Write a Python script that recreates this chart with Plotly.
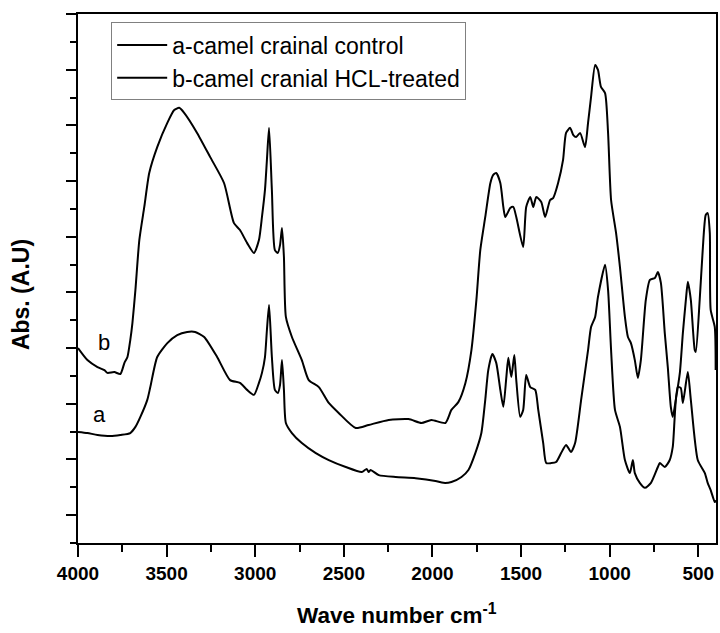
import plotly.graph_objects as go

# Curve a: camel crainal control (wavenumber cm-1, absorbance A.U.)
wn_a = [4000, 3947, 3890, 3817, 3761, 3705, 3676, 3648, 3609, 3592, 3553, 3496, 3440, 3384, 3339,
        3288, 3215, 3142, 3086, 3046, 3007, 2979, 2962, 2945, 2934, 2922, 2906, 2889, 2872, 2860,
        2849, 2838, 2827, 2793, 2737, 2658, 2585, 2489, 2399, 2371, 2360, 2349, 2303, 2208, 2095,
        1983, 1938, 1893, 1836, 1797, 1758, 1724, 1702, 1685, 1662, 1640, 1617, 1600, 1583, 1572,
        1555, 1538, 1527, 1505, 1488, 1471, 1448, 1420, 1403, 1375, 1358, 1330, 1302, 1274, 1246,
        1218, 1195, 1161, 1122, 1105, 1082, 1066, 1026, 1009, 992, 970, 942, 914, 886, 869,
        858, 830, 801, 767, 728, 717, 689, 661, 644, 616, 599, 587, 559, 542, 503,
        463, 447, 430, 407, 402]
abs_a = [3.99, 3.95, 3.88, 3.84, 3.88, 3.95, 4.17, 4.53, 5.14, 5.60, 6.68, 7.18, 7.47, 7.58, 7.58,
         7.40, 6.68, 5.85, 5.75, 5.50, 5.32, 5.75, 6.11, 6.68, 7.65, 8.55, 6.68, 5.50, 5.39, 5.68,
         6.57, 5.50, 4.31, 3.95, 3.59, 3.23, 2.98, 2.73, 2.55, 2.66, 2.55, 2.62, 2.44, 2.37, 2.33,
         2.23, 2.16, 2.19, 2.37, 2.62, 3.23, 3.95, 5.14, 6.21, 6.79, 6.47, 5.50, 4.89, 5.96, 6.65,
         5.96, 6.75, 5.85, 4.53, 4.78, 6.03, 5.60, 5.50, 4.78, 3.59, 2.87, 2.87, 2.91, 3.23, 3.52,
         3.27, 3.59, 5.14, 6.93, 7.76, 8.12, 8.84, 9.99, 9.09, 6.93, 4.78, 4.17, 2.98, 2.51, 2.98,
         2.51, 2.16, 1.98, 2.16, 2.73, 2.87, 2.73, 2.98, 3.45, 5.60, 5.57, 5.03, 6.14, 5.14, 2.98,
         2.51, 2.16, 1.90, 1.47, 1.54]

# Curve b: camel cranial HCL-treated
wn_b = [4000, 3947, 3890, 3851, 3834, 3795, 3761, 3738, 3721, 3705, 3693, 3676, 3654, 3626, 3598,
        3553, 3496, 3457, 3429, 3401, 3328, 3254, 3176, 3120, 3086, 3046, 3007, 2979, 2962, 2945,
        2934, 2922, 2906, 2889, 2872, 2860, 2849, 2838, 2827, 2793, 2737, 2698, 2641, 2585, 2529,
        2433, 2360, 2247, 2135, 2062, 2006, 1927, 1893, 1854, 1814, 1780, 1752, 1730, 1702, 1673,
        1657, 1640, 1617, 1600, 1589, 1561, 1544, 1527, 1488, 1471, 1448, 1431, 1414, 1386, 1364,
        1336, 1319, 1291, 1263, 1246, 1223, 1206, 1189, 1167, 1139, 1122, 1105, 1082, 1066, 1049,
        1026, 1009, 992, 964, 942, 914, 897, 880, 858, 841, 824, 796, 773, 745, 728,
        711, 689, 672, 655, 644, 627, 604, 587, 570, 559, 542, 520, 514, 492, 475,
        458, 447, 435, 430, 407, 402]
abs_b = [7.00, 6.57, 6.32, 6.21, 6.11, 6.14, 6.07, 6.47, 6.68, 7.29, 7.90, 9.09, 10.88, 12.07, 13.29,
         14.22, 15.09, 15.55, 15.63, 15.45, 14.73, 13.86, 12.93, 11.49, 11.24, 10.78, 10.42, 10.88, 11.71, 12.68,
         13.76, 14.91, 12.68, 10.52, 10.42, 10.70, 11.31, 10.27, 8.12, 7.40, 6.57, 5.85, 5.60, 5.03, 4.67,
         4.13, 4.24, 4.42, 4.45, 4.31, 4.42, 4.31, 4.78, 5.06, 5.75, 6.93, 8.73, 10.52, 11.71, 12.93,
         13.22, 13.29, 12.93, 12.07, 11.71, 12.03, 12.07, 11.71, 10.63, 12.07, 12.43, 12.07, 12.43, 12.25, 11.71,
         12.32, 12.39, 12.93, 13.76, 14.73, 14.91, 14.66, 14.58, 14.73, 14.22, 15.09, 16.02, 17.17, 16.99, 16.38,
         16.16, 14.73, 12.32, 11.14, 9.91, 8.12, 7.40, 7.18, 6.57, 5.93, 6.57, 8.73, 9.45, 9.52, 9.73,
         9.34, 7.54, 6.32, 4.89, 4.53, 5.14, 6.11, 7.54, 8.73, 9.38, 8.73, 6.93, 6.86, 8.73, 10.52,
         11.78, 11.85, 11.14, 8.37, 7.76, 6.21]

names = ["a-camel crainal control", "b-camel cranial HCL-treated"]
curve_labels = ["a", "b"]
label_pos_wn = [3880, 3855]
label_pos_abs = [4.60, 7.20]

FONT = "Arial, Liberation Sans"

fig = go.Figure()
fig.add_trace(go.Scatter(x=wn_a, y=abs_a, mode="lines", name=names[0],
                         line=dict(color="black", width=2, shape="spline", smoothing=0.6)))
fig.add_trace(go.Scatter(x=wn_b, y=abs_b, mode="lines", name=names[1],
                         line=dict(color="black", width=2, shape="spline", smoothing=0.6)))

for t, xx, yy in zip(curve_labels, label_pos_wn, label_pos_abs):
    fig.add_annotation(x=xx, y=yy, text=t, showarrow=False,
                       font=dict(family=FONT, size=22, color="black"))

fig.add_annotation(xref="paper", yref="paper", x=0.5, y=-0.164, yanchor="bottom", xanchor="center",
                   text="<b>Wave number cm<sup>-1</sup></b>", showarrow=False,
                   font=dict(family=FONT, size=22.5, color="black"))
fig.add_annotation(xref="paper", yref="paper", x=-0.089, y=0.469, textangle=-90,
                   xanchor="center", yanchor="middle",
                   text="<b>Abs. (A.U)</b>", showarrow=False,
                   font=dict(family=FONT, size=23, color="black"))

fig.update_layout(
    width=720, height=633,
    margin=dict(l=78, r=2, t=14, b=90),
    paper_bgcolor="white", plot_bgcolor="white",
    showlegend=True,
    legend=dict(x=0.052, y=0.984, xanchor="left", yanchor="top",
                bordercolor="#808080", borderwidth=1, bgcolor="white",
                font=dict(family=FONT, size=23, color="black"),
                tracegroupgap=0, itemwidth=50),
    xaxis=dict(range=[4000, 400], showgrid=False, zeroline=False,
               showline=True, linecolor="black", linewidth=2, mirror=True,
               ticks="outside", ticklen=12, tickwidth=2, tickcolor="black",
               dtick=500, tick0=0,
               minor=dict(ticks="outside", ticklen=7, tickwidth=2, dtick=250, tick0=0, tickcolor="black"),
               tickfont=dict(family=FONT, size=19, color="black", weight="bold")),
    yaxis=dict(range=[0, 19], showgrid=False, zeroline=False,
               showline=True, linecolor="black", linewidth=2, mirror=True,
               ticks="outside", ticklen=10, tickwidth=2, tickcolor="black",
               dtick=2, tick0=1, showticklabels=False,
               minor=dict(ticks="outside", ticklen=6, tickwidth=2, dtick=1, tick0=0, tickcolor="black")),
)

fig.write_html("out.html")
